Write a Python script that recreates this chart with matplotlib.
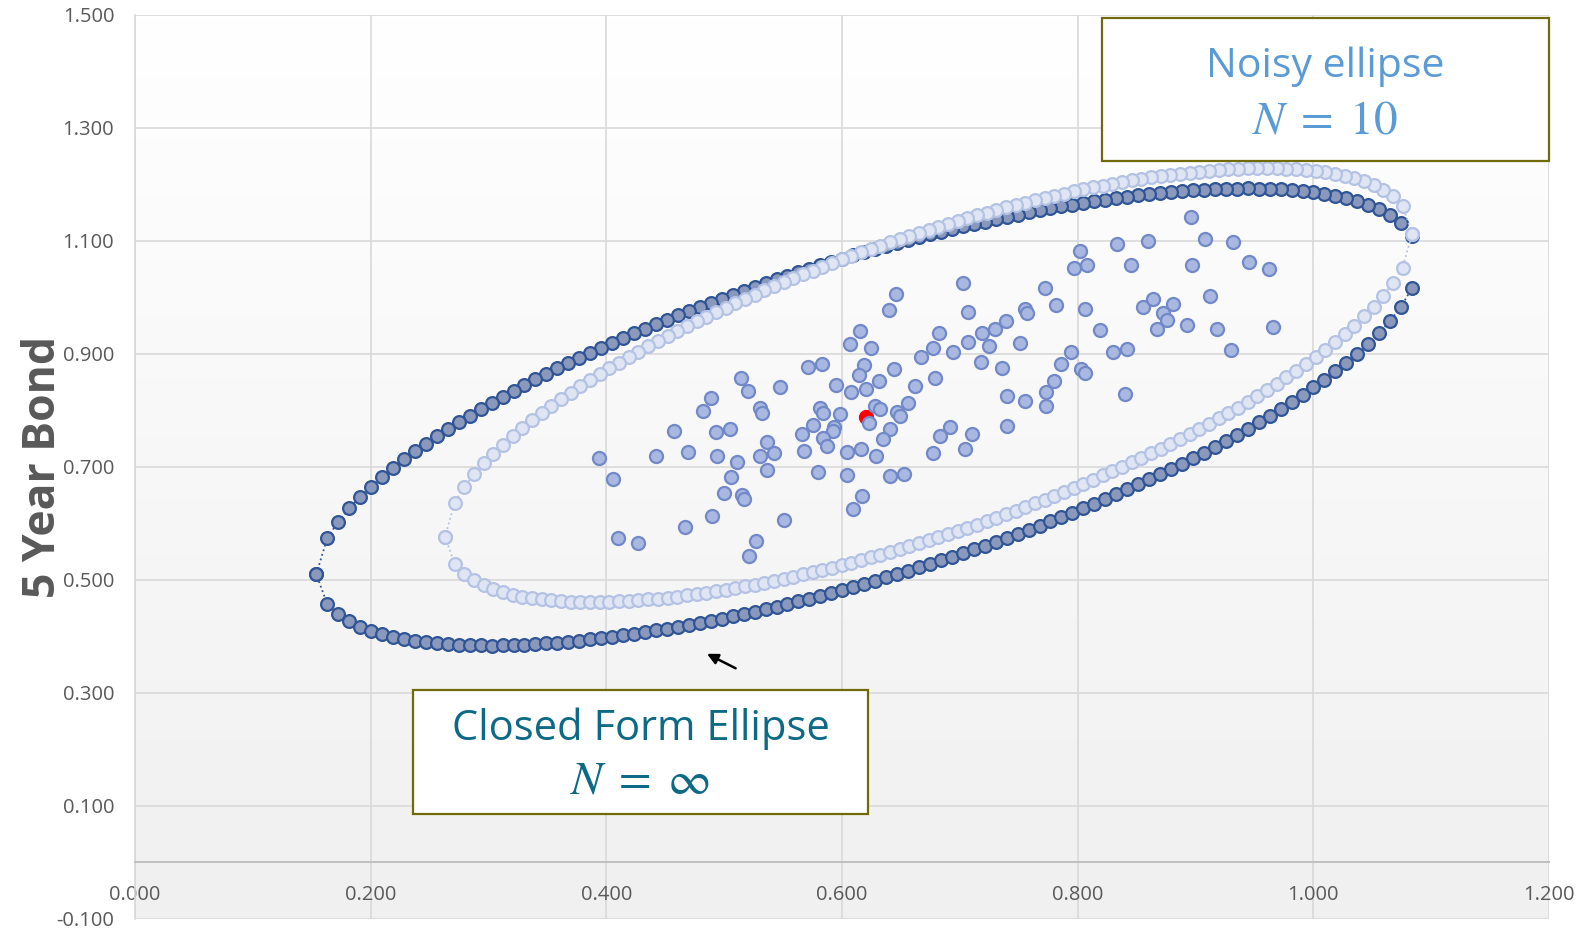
import numpy as np
import matplotlib.pyplot as plt
from matplotlib.patches import Rectangle
from matplotlib.colors import LinearSegmentedColormap

plt.rcParams['font.family'] = ['Open Sans', 'DejaVu Sans']
plt.rcParams['mathtext.fontset'] = 'stix'

# closed form ellipse (N = inf): centre, half extents, correlation, x step
closed_cx, closed_cy = 0.6217, 0.7885
closed_half_x, closed_half_y = 0.4679, 0.4045
closed_rho = 0.688
closed_step = 0.0093

# noisy ellipse (N = 10)
noisy_cx, noisy_cy = 0.6735, 0.845
noisy_half_x, noisy_half_y = 0.4104, 0.384
noisy_rho = 0.698
noisy_steps = 100

# mean point
mean_x, mean_y = 0.6204, 0.7884

# sample points
sample_x = [0.640, 0.707, 0.615, 0.682, 0.607, 0.625, 0.677, 0.707, 0.667, 0.694,
            0.718, 0.571, 0.583, 0.619, 0.644, 0.614, 0.631, 0.679, 0.514, 0.595,
            0.620, 0.608, 0.662, 0.520, 0.547, 0.489, 0.482, 0.530, 0.532, 0.581,
            0.584, 0.598, 0.628, 0.632, 0.647, 0.649, 0.656, 0.623, 0.575, 0.593,
            0.592, 0.566, 0.641, 0.635, 0.692, 0.683, 0.710, 0.457, 0.493, 0.505,
            0.584, 0.587, 0.536, 0.542, 0.530, 0.568, 0.604, 0.616, 0.629, 0.677,
            0.704, 0.394, 0.442, 0.469, 0.494, 0.511, 0.536, 0.580, 0.604, 0.641,
            0.653, 0.406, 0.506, 0.500, 0.515, 0.517, 0.617, 0.609, 0.490, 0.467,
            0.551, 0.410, 0.427, 0.527, 0.521, 0.703, 0.646, 0.772, 0.782, 0.755,
            0.757, 0.797, 0.802, 0.730, 0.739, 0.719, 0.725, 0.751, 0.736, 0.794,
            0.786, 0.780, 0.773, 0.773, 0.755, 0.740, 0.740, 0.896, 0.860, 0.908,
            0.932, 0.833, 0.808, 0.845, 0.897, 0.945, 0.962, 0.806, 0.819, 0.855,
            0.864, 0.881, 0.872, 0.876, 0.867, 0.893, 0.912, 0.918, 0.966, 0.930,
            0.830, 0.842, 0.803, 0.806, 0.840]
sample_y = [0.977, 0.974, 0.941, 0.938, 0.918, 0.911, 0.910, 0.922, 0.894, 0.903,
            0.886, 0.877, 0.882, 0.881, 0.874, 0.862, 0.853, 0.857, 0.858, 0.845,
            0.838, 0.833, 0.843, 0.834, 0.841, 0.822, 0.799, 0.804, 0.796, 0.804,
            0.796, 0.793, 0.808, 0.802, 0.797, 0.790, 0.814, 0.778, 0.774, 0.770,
            0.763, 0.759, 0.768, 0.750, 0.770, 0.754, 0.759, 0.763, 0.762, 0.767,
            0.751, 0.737, 0.745, 0.724, 0.719, 0.728, 0.726, 0.732, 0.720, 0.725,
            0.732, 0.716, 0.719, 0.726, 0.719, 0.709, 0.694, 0.691, 0.685, 0.684,
            0.688, 0.679, 0.683, 0.654, 0.650, 0.643, 0.648, 0.625, 0.613, 0.594,
            0.606, 0.575, 0.566, 0.569, 0.543, 1.025, 1.007, 1.016, 0.986, 0.979,
            0.972, 1.052, 1.082, 0.944, 0.958, 0.938, 0.914, 0.920, 0.876, 0.904,
            0.883, 0.853, 0.832, 0.808, 0.817, 0.826, 0.772, 1.142, 1.100, 1.104,
            1.098, 1.094, 1.058, 1.057, 1.057, 1.062, 1.051, 0.980, 0.942, 0.983,
            0.998, 0.988, 0.973, 0.961, 0.944, 0.951, 1.002, 0.945, 0.948, 0.907,
            0.903, 0.908, 0.873, 0.867, 0.830]

x_ticks = [0.0, 0.2, 0.4, 0.6, 0.8, 1.0, 1.2]
x_labels = ['0.000', '0.200', '0.400', '0.600', '0.800', '1.000', '1.200']
y_ticks = [-0.1, 0.1, 0.3, 0.5, 0.7, 0.9, 1.1, 1.3, 1.5]
y_labels = ['-0.100', '0.100', '0.300', '0.500', '0.700', '0.900', '1.100', '1.300', '1.500']


def ellipse_points(cx, cy, hx, hy, rho, xs):
    # upper branch right->left, then lower branch left->right
    u = (xs - cx) / hx
    root = np.sqrt(np.clip((1 - rho ** 2) * (1 - u ** 2), 0, None))
    upper = cy + hy * (rho * u + root)
    lower = cy + hy * (rho * u - root)
    return np.concatenate([xs[::-1], xs]), np.concatenate([upper[::-1], lower])


xs_closed = closed_cx - closed_half_x + closed_step * np.arange(int(2 * closed_half_x / closed_step) + 1)
cl_x, cl_y = ellipse_points(closed_cx, closed_cy, closed_half_x, closed_half_y, closed_rho, xs_closed)
xs_noisy = np.linspace(noisy_cx - noisy_half_x, noisy_cx + noisy_half_x, noisy_steps + 1)
no_x, no_y = ellipse_points(noisy_cx, noisy_cy, noisy_half_x, noisy_half_y, noisy_rho, xs_noisy)

fig = plt.figure(figsize=(15.85, 9.31), dpi=100)
ax = fig.add_axes([0.0852, 0.0129, 0.8921, 0.9710])

# background gradient of the plot area
grad = LinearSegmentedColormap.from_list('bg', ['#ffffff', '#f0f0f0'])
ax.imshow(np.linspace(0, 1, 256).reshape(-1, 1), extent=[0, 1.2, -0.1, 1.5],
          aspect='auto', cmap=grad, origin='upper', zorder=0)

ax.plot(cl_x, cl_y, ls=':', color='#2f5597', lw=1.3, marker='o', ms=9.2,
        mfc='#8a98bc', mec='#2f5597', mew=1.6, zorder=3)
ax.plot(no_x, no_y, ls=':', color='#b4c2e4', lw=1.3, marker='o', ms=9.2,
        mfc='#dfe5f3', mec='#b4c2e4', mew=1.6, zorder=4)
ax.plot([mean_x], [mean_y], 'o', color='#ff0000', ms=10, zorder=5)
ax.plot(sample_x, sample_y, 'o', ls='none', ms=9.4, mfc='#a9b8e0', mec='#7189c9',
        mew=1.6, zorder=6)

ax.annotate('', xy=(0.4833, 0.3716), xytext=(0.5118, 0.3415),
            arrowprops=dict(arrowstyle='-|>', color='black', lw=1.8, mutation_scale=16))

ax.set_xlim(0, 1.2)
ax.set_ylim(-0.1, 1.5)
ax.set_xticks(x_ticks)
ax.set_xticklabels(x_labels)
ax.set_yticks(y_ticks)
ax.set_yticklabels(y_labels)
ax.tick_params(length=0, labelsize=14.5, labelcolor='#595959')
ax.tick_params(axis='x', pad=16)
ax.tick_params(axis='y', pad=15)
ax.grid(color='#d9d9d9', lw=1.2)
ax.set_axisbelow(True)
for s in ['top', 'right']:
    ax.spines[s].set_visible(False)
ax.spines['bottom'].set_position(('data', 0))
ax.spines['bottom'].set_color('#bfbfbf')
ax.spines['bottom'].set_linewidth(1.4)
ax.spines['left'].set_color('#d9d9d9')
ax.spines['left'].set_linewidth(1.2)

fig.text(0.0272, 0.498, '5 Year Bond', rotation=90, ha='center', va='center',
         fontsize=32, fontweight='bold', color='#595959')

# annotation boxes
ax.add_patch(Rectangle((0.6837, 0.8388), 0.316, 0.1577, transform=ax.transAxes,
                       fc='white', ec='#716a0a', lw=1.6, zorder=8, clip_on=False))
ax.text(0.8416, 0.9425, 'Noisy ellipse', transform=ax.transAxes, ha='center', va='center',
        fontsize=29.5, color='#5b9bd5', zorder=9)
ax.text(0.8416, 0.8830, r'$N\;=\;10$', transform=ax.transAxes, ha='center', va='center',
        fontsize=34, color='#5b9bd5', zorder=9)

ax.add_patch(Rectangle((0.1969, 0.1165), 0.3217, 0.1364, transform=ax.transAxes,
                       fc='white', ec='#716a0a', lw=1.6, zorder=8, clip_on=False))
ax.text(0.3578, 0.2105, 'Closed Form Ellipse', transform=ax.transAxes, ha='center', va='center',
        fontsize=30, color='#0d6a86', zorder=9)
ax.text(0.3570, 0.1525, r'$N\;=\;\infty$', transform=ax.transAxes, ha='center', va='center',
        fontsize=34, color='#0d6a86', zorder=9)

fig.savefig('out.png', dpi=100, facecolor='white')
